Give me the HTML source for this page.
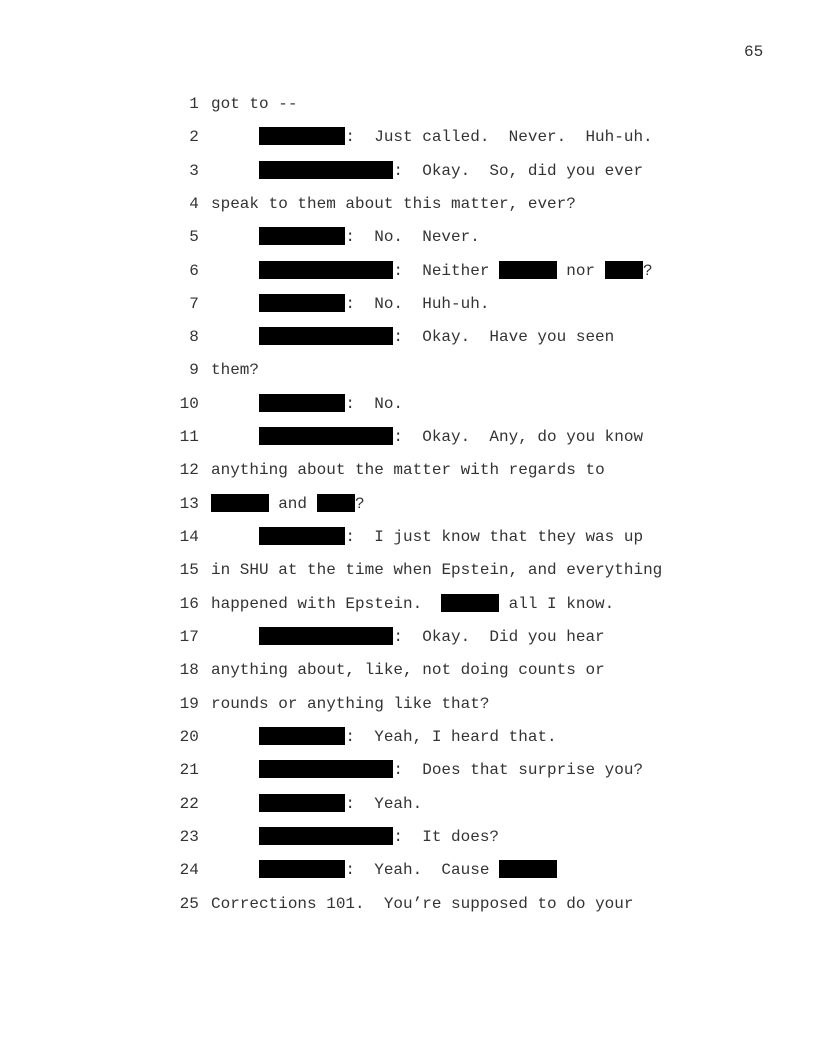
<!DOCTYPE html>
<html><head><meta charset="utf-8"><style>
body{margin:0;background:#fff;}
.pg{position:relative;width:816px;height:1056px;overflow:hidden;font-family:"Liberation Mono","Courier New",monospace;font-size:16px;color:#333;}
.l{position:absolute;left:0;height:20px;line-height:20px;white-space:pre;}
.n{position:absolute;width:198.8px;text-align:right;}
.t{position:absolute;left:211px;}
.b{display:inline-block;height:18px;background:#000;vertical-align:-4px;}
.b4{width:38.4px}.b6{width:57.6px}.b9{width:86.4px}.b14{width:134.4px}
</style></head><body><div class="pg">
<div class="l" style="top:42px;left:744px">65</div>
<div class="l" style="top:93.8px"><span class="n">1</span><span class="t">got to --</span></div>
<div class="l" style="top:127.1px"><span class="n">2</span><span class="t">     <span class="b b9"></span>:  Just called.  Never.  Huh-uh.</span></div>
<div class="l" style="top:160.5px"><span class="n">3</span><span class="t">     <span class="b b14"></span>:  Okay.  So, did you ever</span></div>
<div class="l" style="top:193.8px"><span class="n">4</span><span class="t">speak to them about this matter, ever?</span></div>
<div class="l" style="top:227.1px"><span class="n">5</span><span class="t">     <span class="b b9"></span>:  No.  Never.</span></div>
<div class="l" style="top:260.5px"><span class="n">6</span><span class="t">     <span class="b b14"></span>:  Neither <span class="b b6"></span> nor <span class="b b4"></span>?</span></div>
<div class="l" style="top:293.8px"><span class="n">7</span><span class="t">     <span class="b b9"></span>:  No.  Huh-uh.</span></div>
<div class="l" style="top:327.1px"><span class="n">8</span><span class="t">     <span class="b b14"></span>:  Okay.  Have you seen</span></div>
<div class="l" style="top:360.4px"><span class="n">9</span><span class="t">them?</span></div>
<div class="l" style="top:393.8px"><span class="n">10</span><span class="t">     <span class="b b9"></span>:  No.</span></div>
<div class="l" style="top:427.1px"><span class="n">11</span><span class="t">     <span class="b b14"></span>:  Okay.  Any, do you know</span></div>
<div class="l" style="top:460.4px"><span class="n">12</span><span class="t">anything about the matter with regards to</span></div>
<div class="l" style="top:493.8px"><span class="n">13</span><span class="t"><span class="b b6"></span> and <span class="b b4"></span>?</span></div>
<div class="l" style="top:527.1px"><span class="n">14</span><span class="t">     <span class="b b9"></span>:  I just know that they was up</span></div>
<div class="l" style="top:560.4px"><span class="n">15</span><span class="t">in SHU at the time when Epstein, and everything</span></div>
<div class="l" style="top:593.8px"><span class="n">16</span><span class="t">happened with Epstein.  <span class="b b6"></span> all I know.</span></div>
<div class="l" style="top:627.1px"><span class="n">17</span><span class="t">     <span class="b b14"></span>:  Okay.  Did you hear</span></div>
<div class="l" style="top:660.4px"><span class="n">18</span><span class="t">anything about, like, not doing counts or</span></div>
<div class="l" style="top:693.8px"><span class="n">19</span><span class="t">rounds or anything like that?</span></div>
<div class="l" style="top:727.1px"><span class="n">20</span><span class="t">     <span class="b b9"></span>:  Yeah, I heard that.</span></div>
<div class="l" style="top:760.4px"><span class="n">21</span><span class="t">     <span class="b b14"></span>:  Does that surprise you?</span></div>
<div class="l" style="top:793.7px"><span class="n">22</span><span class="t">     <span class="b b9"></span>:  Yeah.</span></div>
<div class="l" style="top:827.1px"><span class="n">23</span><span class="t">     <span class="b b14"></span>:  It does?</span></div>
<div class="l" style="top:860.4px"><span class="n">24</span><span class="t">     <span class="b b9"></span>:  Yeah.  Cause <span class="b b6"></span></span></div>
<div class="l" style="top:893.7px"><span class="n">25</span><span class="t">Corrections 101.  You’re supposed to do your</span></div>
</div></body></html>
